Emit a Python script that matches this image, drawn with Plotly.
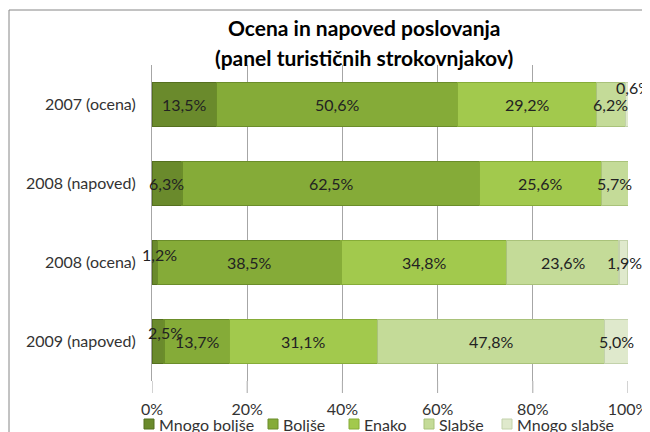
import plotly.graph_objects as go

categories = ["2007 (ocena)", "2008 (napoved)", "2008 (ocena)", "2009 (napoved)"]
series_names = ["Mnogo boljše", "Boljše", "Enako", "Slabše", "Mnogo slabše"]
mnogo_boljse = [13.5, 6.3, 1.2, 2.5]
boljse = [50.6, 62.5, 38.5, 13.7]
enako = [29.2, 25.6, 34.8, 31.1]
slabse = [6.2, 5.7, 23.6, 47.8]
mnogo_slabse = [0.6, 0.0, 1.9, 5.0]
x_ticks = [0, 20, 40, 60, 80, 100]
x_tick_labels = ["0%", "20%", "40%", "60%", "80%", "100%"]
title_lines = ["Ocena in napoved poslovanja", "(panel turističnih strokovnjakov)"]

series_values = [mnogo_boljse, boljse, enako, slabse, mnogo_slabse]
fill_colors = ["#6a8a2c", "#85ab38", "#a2c94d", "#c4db98", "#dfe9cc"]
line_colors = ["#55701f", "#6b8d2a", "#86ac38", "#a9c27a", "#c3d2ab"]
# manual label nudges (px) for labels moved in the original: (row, series) -> (dx, dy)
label_nudge = {(0, 4): (6, 17), (2, 0): (5, 8), (3, 0): (8, 9), (2, 4): (1, 0)}
# legend entry left edges (px, screen), legend row centre (px, screen)
legend_x_px = [144, 268, 349, 424, 502]
legend_y_px = 424

FONT = "Lato"
OFF = 8  # page body margin of the generated html
W, H = 650, 432
L, T = 152 - OFF, 65 - OFF
R = W - (628 - OFF)
B = H - (381 - OFF)
PW, PH = W - L - R, H - T - B


def px_x(p):
    return (p - OFF - L) / PW


def px_y(p):
    return (H - B - (p - OFF)) / PH


fig = go.Figure()
for name, vals, fc, lc in zip(series_names, series_values, fill_colors, line_colors):
    fig.add_trace(go.Bar(
        y=categories, x=vals, name=name, orientation="h",
        marker=dict(color=fc, line=dict(color=lc, width=1.2)),
        hoverinfo="x+name", showlegend=False,
    ))

annotations = []
for r, cat in enumerate(categories):
    cum = 0.0
    for s, vals in enumerate(series_values):
        v = vals[r]
        if v > 0:
            dx, dy = label_nudge.get((r, s), (0, 0))
            annotations.append(dict(
                x=cum + v / 2, y=cat, xref="x", yref="y",
                text=f"{v:.1f}%".replace(".", ","), showarrow=False,
                font=dict(family=FONT, size=16, color="#222222"),
                xshift=dx, yshift=dy,
            ))
        cum += v

for i, line in enumerate(title_lines):
    ypx = 27 + 30 * i
    annotations.append(dict(
        x=px_x(364), y=px_y(ypx), xref="paper", yref="paper",
        text=f"<b>{line}</b>", showarrow=False, xanchor="center", yanchor="middle",
        font=dict(family=FONT, size=21, color="#000000"),
    ))

shapes = [dict(
    type="rect", xref="paper", yref="paper",
    x0=px_x(9), x1=px_x(700), y0=px_y(470), y1=px_y(10),
    line=dict(color="#868686", width=1), fillcolor="rgba(0,0,0,0)", layer="below",
)]
for t in x_ticks:
    shapes.append(dict(
        type="line", xref="x", yref="paper", x0=t, x1=t, y0=0, y1=-12 / PH,
        line=dict(color="#a6a6a6", width=1),
    ))

# custom legend (Excel style: small square + label)
for name, fc, lc, lx in zip(series_names, fill_colors, line_colors, legend_x_px):
    shapes.append(dict(
        type="rect", xref="paper", yref="paper",
        x0=px_x(lx), x1=px_x(lx + 10), y0=px_y(legend_y_px + 5), y1=px_y(legend_y_px - 5),
        fillcolor=fc, line=dict(color=lc, width=1),
    ))
    annotations.append(dict(
        x=px_x(lx + 13), y=px_y(legend_y_px), xref="paper", yref="paper",
        text=name, showarrow=False, xanchor="left", yanchor="middle",
        font=dict(family=FONT, size=16, color="#333333"),
    ))

fig.update_layout(
    width=W, height=H,
    margin=dict(l=L, r=R, t=T, b=B, pad=0),
    barmode="stack", bargap=0.44,
    paper_bgcolor="white", plot_bgcolor="white",
    font=dict(family=FONT, size=16, color="#333333"),
    showlegend=False,
    xaxis=dict(
        range=[0, 100], tickvals=x_ticks, ticktext=x_tick_labels,
        showgrid=True, gridcolor="#a6a6a6", gridwidth=1, zeroline=False,
        showline=False, ticks="", ticklabelstandoff=17, automargin=False,
        tickfont=dict(family=FONT, size=16, color="#333333"),
    ),
    yaxis=dict(
        categoryorder="array", categoryarray=categories, autorange="reversed",
        showline=True, linecolor="#a6a6a6", linewidth=1, ticks="",
        ticklabelstandoff=12, showgrid=False, automargin=False,
        tickfont=dict(family=FONT, size=16, color="#333333"),
    ),
    annotations=annotations, shapes=shapes,
)

fig.write_html("out.html")
